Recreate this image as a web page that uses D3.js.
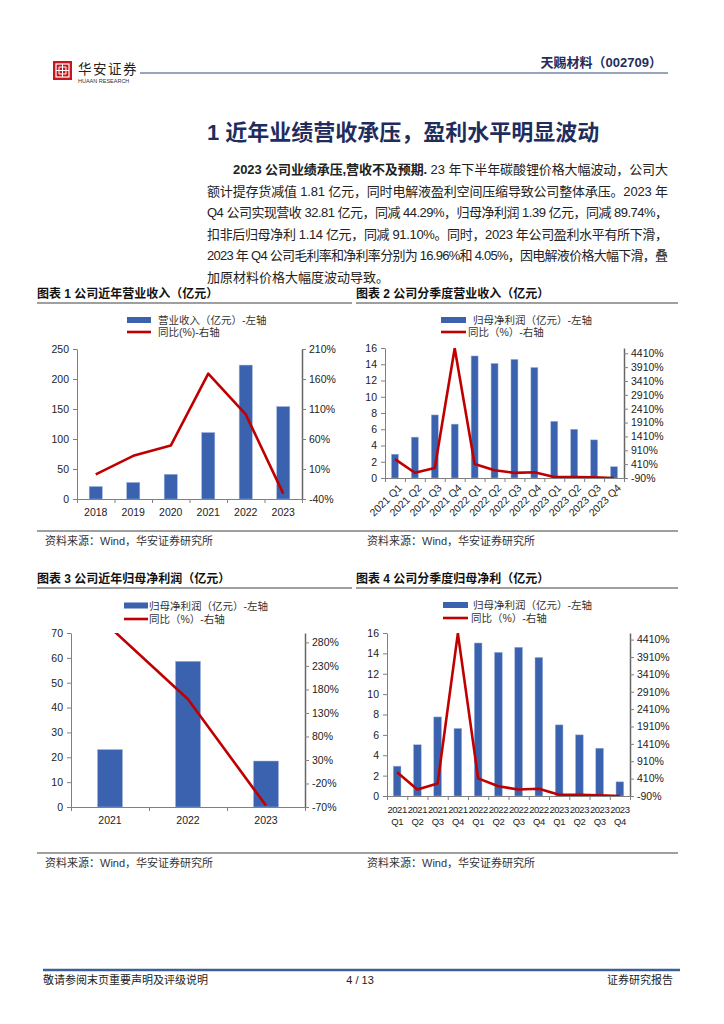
<!DOCTYPE html>
<html>
<head>
<meta charset="utf-8">
<script src="https://cdn.jsdelivr.net/npm/d3@7"></script>
<style>
  body { margin: 0; background: #fff; }
  svg { display: block; }
  text { font-family: "Liberation Sans", "Noto Sans CJK SC", sans-serif; }
</style>
</head>
<body>
<svg id="page" width="724" height="1024"></svg>
<script>
// ---- data ----
const annualYears = ['2018', '2019', '2020', '2021', '2022', '2023'];
const annualRevenue = [20.8, 27.6, 41.2, 110.8, 223.2, 154.1];
const annualRevenueYoy = [1, 32, 49, 169, 101, -31];

const quarters = ['2021 Q1', '2021 Q2', '2021 Q3', '2021 Q4', '2022 Q1', '2022 Q2',
                  '2022 Q3', '2022 Q4', '2023 Q1', '2023 Q2', '2023 Q3', '2023 Q4'];
const quarterProfit = [2.93, 5.03, 7.76, 6.63, 15.02, 14.1, 14.6, 13.6, 6.98, 6.0, 4.69, 1.39];
const quarterProfitYoy = [592, 98, 272, 4590, 418, 190, 96, 118, -53, -57, -68, -90];

const profitYears = ['2021', '2022', '2023'];
const annualProfit = [23.1, 58.6, 18.5];
const annualProfitYoy = [312, 159, -67];

// axis ticks
const revenueTicks = [0, 50, 100, 150, 200, 250];
const revenueYoyTicks = [-40, 10, 60, 110, 160, 210];
const quarterTicks = [0, 2, 4, 6, 8, 10, 12, 14, 16];
const quarterYoyTicks = [-90, 410, 910, 1410, 1910, 2410, 2910, 3410, 3910, 4410];
const profitTicks = [0, 10, 20, 30, 40, 50, 60, 70];
const profitYoyTicks = [-70, -20, 30, 80, 130, 180, 230, 280];

// page text
const paraLines = [
  [{t: '2023 公司业绩承压,营收不及预期.', b: true}, {t: ' 23 年下半年碳酸锂价格大幅波动，公司大'}],
  [{t: '额计提存货减值 1.81 亿元，同时电解液盈利空间压缩导致公司整体承压。2023 年'}],
  [{t: 'Q4 公司实现营收 32.81 亿元，同减 44.29%，归母净利润 1.39 亿元，同减 89.74%，'}],
  [{t: '扣非后归母净利 1.14 亿元，同减 91.10%。同时，2023 年公司盈利水平有所下滑，'}],
  [{t: '2023 年 Q4 公司毛利率和净利率分别为 16.96%和 4.05%，因电解液价格大幅下滑，叠'}],
  [{t: '加原材料价格大幅度波动导致。'}]
];

const BAR = '#3A62AE';
const LINE = '#C00000';
const AXIS = '#808080';

const svg = d3.select('#page');

// ---- header ----
const logo = svg.append('g').attr('transform', 'translate(53,61)');
logo.append('rect').attr('width', 19).attr('height', 19).attr('fill', '#C8161D');
logo.append('rect').attr('x', 3).attr('y', 3).attr('width', 13).attr('height', 13)
  .attr('fill', 'none').attr('stroke', '#fff').attr('stroke-width', 1.2);
logo.append('path').attr('d', 'M9.5,3V16M3,9.5H16M6,6H13V13H6Z')
  .attr('fill', 'none').attr('stroke', '#fff').attr('stroke-width', 1);
svg.append('text').attr('x', 78).attr('y', 74).attr('font-size', 13.5)
  .attr('fill', '#222').attr('letter-spacing', 1.5).text('华安证券');
svg.append('text').attr('x', 78).attr('y', 82.5).attr('font-size', 5.5)
  .attr('fill', '#333').text('HUAAN RESEARCH');
svg.append('line').attr('x1', 140).attr('x2', 668).attr('y1', 73).attr('y2', 73)
  .attr('stroke', '#2F4A7A').attr('stroke-width', 1);
svg.append('text').attr('x', 662).attr('y', 67).attr('text-anchor', 'end')
  .attr('font-size', 13).attr('font-weight', 'bold').attr('fill', '#1F2D5C')
  .text('天赐材料（002709）');

// ---- section title and paragraph ----
svg.append('text').attr('x', 207).attr('y', 140).attr('font-size', 22)
  .attr('font-weight', 'bold').attr('fill', '#1F2D5C')
  .text('1 近年业绩营收承压，盈利水平明显波动');

paraLines.forEach((segs, i) => {
  const x0 = i === 0 ? 233 : 207;
  const t = svg.append('text').attr('x', x0).attr('y', 174 + i * 21.6)
    .attr('font-size', 13).attr('fill', '#222');
  segs.forEach(s => t.append('tspan').attr('font-weight', s.b ? 'bold' : null).text(s.t));
  if (i < paraLines.length - 1) {
    const w = t.node().getComputedTextLength();
    const n = segs.map(s => s.t).join('').length;
    t.attr('letter-spacing', (668 - x0 - w) / (n - 1));
  }
});

// ---- chart frames: titles, rules, sources ----
function frame(x, y, title, x2) {
  svg.append('text').attr('x', x).attr('y', y).attr('font-size', 12)
    .attr('font-weight', 'bold').attr('fill', '#111').text(title);
  svg.append('line').attr('x1', x).attr('x2', x2).attr('y1', y + 5.5).attr('y2', y + 5.5)
    .attr('stroke', '#7F7F7F').attr('stroke-width', 1.5);
}
frame(37, 297.5, '图表 1 公司近年营业收入（亿元）', 352);
frame(356, 297.5, '图表 2 公司分季度营业收入（亿元）', 678);
frame(37, 582.5, '图表 3 公司近年归母净利润（亿元）', 352);
frame(356, 582.5, '图表 4 公司分季度归母净利（亿元）', 678);

[531, 853].forEach(y => {
  svg.append('line').attr('x1', 37).attr('x2', 678).attr('y1', y).attr('y2', y)
    .attr('stroke', '#7F7F7F').attr('stroke-width', 1.5);
  [45, 367].forEach(x => {
    svg.append('text').attr('x', x).attr('y', y + 14).attr('font-size', 11)
      .attr('fill', '#333').text('资料来源：Wind，华安证券研究所');
  });
});

// ---- footer ----
svg.append('line').attr('x1', 43).attr('x2', 680).attr('y1', 970).attr('y2', 970)
  .attr('stroke', '#3A5F9B').attr('stroke-width', 2.5);
svg.append('text').attr('x', 43).attr('y', 984).attr('font-size', 11)
  .attr('fill', '#222').text('敬请参阅末页重要声明及评级说明');
svg.append('text').attr('x', 360).attr('y', 984).attr('font-size', 11)
  .attr('text-anchor', 'middle').attr('fill', '#222').text('4 / 13');
svg.append('text').attr('x', 673).attr('y', 984).attr('font-size', 11)
  .attr('text-anchor', 'end').attr('fill', '#222').text('证券研究报告');

// ---- combo chart: bars on left axis, line on right axis ----
function drawChart(c) {
  const g = svg.append('g');
  const n = c.cats.length;
  const step = (c.right - c.left) / n;
  const cx = i => c.left + step * (i + 0.5);
  const yL = d3.scaleLinear().domain(c.leftDomain).range([c.bottom, c.top]);
  const yR = d3.scaleLinear().domain(c.rightDomain).range([c.bottom, c.top]);

  // bars
  g.selectAll('rect.bar').data(c.bars).join('rect')
    .attr('class', 'bar')
    .attr('x', (d, i) => cx(i) - step * c.barRatio / 2)
    .attr('y', d => yL(d))
    .attr('width', step * c.barRatio)
    .attr('height', d => c.bottom - yL(d))
    .attr('fill', BAR)
    .attr('stroke', '#9FB4DE').attr('stroke-width', 0.5);

  // axes
  const left = g.append('g').attr('transform', `translate(${c.left},0)`)
    .call(d3.axisLeft(yL).tickValues(c.leftTicks).tickSize(4).tickPadding(4).tickSizeOuter(0));
  const right = g.append('g').attr('transform', `translate(${c.right},0)`)
    .call(d3.axisRight(yR).tickValues(c.rightTicks).tickFormat(d => d + '%')
      .tickSize(4).tickPadding(3).tickSizeOuter(0));
  const xs = d3.scaleLinear().domain([0, n]).range([c.left, c.right]);
  const bottom = g.append('g').attr('transform', `translate(0,${c.bottom})`)
    .call(d3.axisBottom(xs).tickValues(d3.range(n + 1)).tickFormat('').tickSize(4).tickSizeOuter(0));
  [left, right, bottom].forEach(a => {
    a.select('.domain').attr('stroke', AXIS);
    a.selectAll('.tick line').attr('stroke', AXIS);
    a.selectAll('.tick text').attr('font-size', 10.5).attr('fill', '#222')
      .attr('font-family', '"Liberation Sans", sans-serif');
  });
  right.select('.domain').attr('stroke', '#666').attr('stroke-width', 1.5);

  // category labels
  c.cats.forEach((cat, i) => {
    if (c.xMode === 'rotate') {
      g.append('text').attr('font-size', 10.5).attr('fill', '#222')
        .attr('text-anchor', 'end')
        .attr('transform', `translate(${cx(i) + 5},${c.bottom + 8}) rotate(-45)`)
        .attr('dy', '0.35em').text(cat);
    } else if (c.xMode === 'split') {
      // two-line labels are packed tight, so shrink them to fit the step
      const parts = cat.split(' ');
      parts.forEach((p, k) => {
        g.append('text').attr('x', cx(i)).attr('y', c.labelY + k * 11.5)
          .attr('font-size', 9.5).attr('letter-spacing', -0.45)
          .attr('fill', '#222').attr('text-anchor', 'middle').text(p);
      });
    } else {
      g.append('text').attr('x', cx(i)).attr('y', c.labelY)
        .attr('font-size', 10.5).attr('fill', '#222').attr('text-anchor', 'middle').text(cat);
    }
  });

  // line, clipped to plot area
  const clipId = 'clip' + c.id;
  svg.append('clipPath').attr('id', clipId).append('rect')
    .attr('x', c.left).attr('y', c.top).attr('width', c.right - c.left)
    .attr('height', c.bottom - c.top);
  g.append('path').datum(c.line)
    .attr('clip-path', `url(#${clipId})`)
    .attr('d', d3.line().x((d, i) => cx(i)).y(d => yR(d)))
    .attr('fill', 'none').attr('stroke', LINE).attr('stroke-width', 2.6)
    .attr('stroke-linejoin', 'round');

  // legend
  const L = c.legend;
  g.append('rect').attr('x', L.x).attr('y', L.y1 - 3).attr('width', L.w).attr('height', 6)
    .attr('fill', BAR);
  g.append('line').attr('x1', L.x).attr('x2', L.x + L.w).attr('y1', L.y2).attr('y2', L.y2)
    .attr('stroke', LINE).attr('stroke-width', 2.6);
  g.append('text').attr('x', L.t1).attr('y', L.y1 + 4).attr('font-size', 10.5)
    .attr('fill', '#333').text(c.barName);
  g.append('text').attr('x', L.t2).attr('y', L.y2 + 4).attr('font-size', 10.5)
    .attr('fill', '#333').text(c.lineName);
}

drawChart({
  id: 1, left: 77, right: 302, top: 349, bottom: 499,
  cats: annualYears, bars: annualRevenue, line: annualRevenueYoy,
  leftDomain: [0, 250], leftTicks: revenueTicks,
  rightDomain: [-40, 210], rightTicks: revenueYoyTicks,
  barRatio: 0.35, xMode: 'plain', labelY: 516,
  barName: '营业收入（亿元）-左轴', lineName: '同比(%)-右轴',
  legend: {x: 127, w: 24, y1: 320, y2: 332, t1: 158, t2: 158}
});

drawChart({
  id: 2, left: 385, right: 624, top: 348, bottom: 478,
  cats: quarters, bars: quarterProfit, line: quarterProfitYoy,
  leftDomain: [0, 16], leftTicks: quarterTicks,
  rightDomain: [-90, 4600], rightTicks: quarterYoyTicks,
  barRatio: 0.35, xMode: 'rotate',
  barName: ' 归母净利润（亿元）-左轴', lineName: '同比（%）-右轴',
  legend: {x: 441, w: 25, y1: 320, y2: 332, t1: 473, t2: 468}
});

drawChart({
  id: 3, left: 71, right: 305, top: 633, bottom: 807,
  cats: profitYears, bars: annualProfit, line: annualProfitYoy,
  leftDomain: [0, 70], leftTicks: profitTicks,
  rightDomain: [-70, 300], rightTicks: profitYoyTicks,
  barRatio: 0.32, xMode: 'plain', labelY: 824,
  barName: '归母净利润（亿元）-左轴', lineName: '同比（%）-右轴',
  legend: {x: 124, w: 24, y1: 605.5, y2: 619, t1: 149, t2: 149}
});

drawChart({
  id: 4, left: 387, right: 630, top: 633, bottom: 796,
  cats: quarters, bars: quarterProfit, line: quarterProfitYoy,
  leftDomain: [0, 16], leftTicks: quarterTicks,
  rightDomain: [-90, 4600], rightTicks: quarterYoyTicks,
  barRatio: 0.38, xMode: 'split', labelY: 813,
  barName: ' 归母净利润（亿元）-左轴', lineName: '同比（%）-右轴',
  legend: {x: 443, w: 25, y1: 605, y2: 618, t1: 473, t2: 471}
});
</script>
</body>
</html>
